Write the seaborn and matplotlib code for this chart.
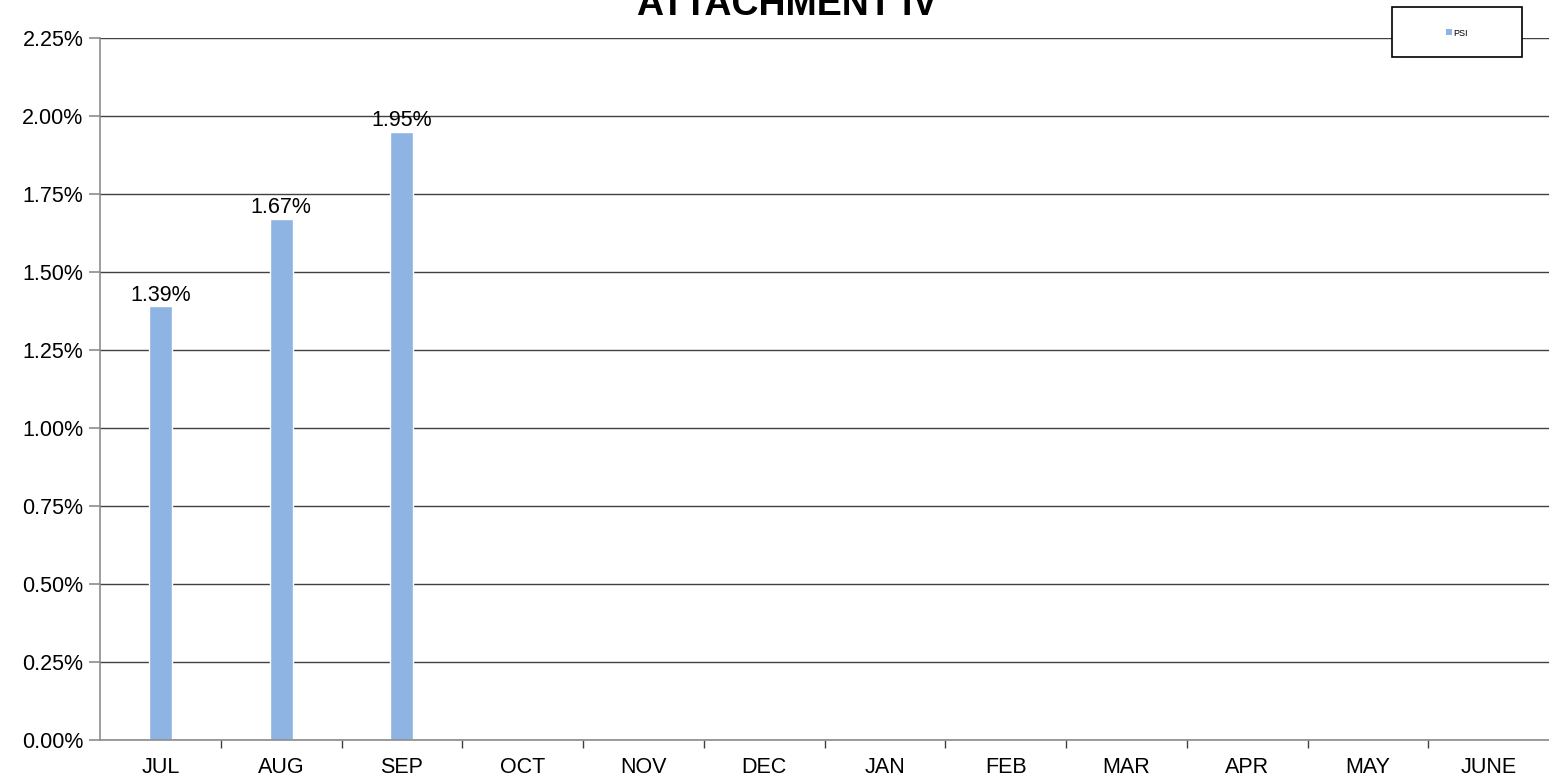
import pandas as pd
import numpy as np
import matplotlib
matplotlib.use("Agg")
from matplotlib import pyplot as plt
from matplotlib.patches import Rectangle
from matplotlib.ticker import PercentFormatter
import seaborn as sns

months = ["JUL", "AUG", "SEP", "OCT", "NOV", "DEC", "JAN", "FEB", "MAR", "APR", "MAY", "JUNE"]
psi = [0.0139, 0.0167, 0.0195, np.nan, np.nan, np.nan, np.nan, np.nan, np.nan, np.nan, np.nan, np.nan]
y_ticks = [0.0, 0.0025, 0.005, 0.0075, 0.01, 0.0125, 0.015, 0.0175, 0.02, 0.0225]

sns.set_style("white")
plt.rcParams['font.family'] = ['Liberation Sans', 'DejaVu Sans']
plt.rcParams['text.color'] = 'black'
plt.rcParams['xtick.color'] = 'black'
plt.rcParams['ytick.color'] = 'black'

df = pd.DataFrame({"month": months, "PSI": psi})
bar_color = "#8EB4E3"

fig = plt.figure(figsize=(15.49, 7.80), dpi=100)
ax = fig.add_axes([100 / 1549, 40 / 780, 1 - 100 / 1549, 702 / 780])

sns.barplot(data=df, x="month", y="PSI", order=months, color=bar_color,
            width=0.19, ax=ax, label="PSI", saturation=1)
if ax.get_legend() is not None:
    ax.get_legend().remove()

ax.set_ylim(0, 0.0225)
ax.set_xlim(-0.5, 11.5)
ax.set_yticks(y_ticks)
ax.yaxis.set_major_formatter(PercentFormatter(1.0, decimals=2))
ax.set_xlabel("")
ax.set_ylabel("")

# gridlines
ax.set_axisbelow(True)
ax.yaxis.grid(True, color="#404040", linewidth=1.0)
ax.xaxis.grid(False)

for side in ["top", "right"]:
    ax.spines[side].set_visible(False)
ax.spines["left"].set_color("#8c8c8c")
ax.spines["bottom"].set_color("#8c8c8c")
ax.spines["left"].set_linewidth(1.2)
ax.spines["bottom"].set_linewidth(1.2)

# x ticks between categories
ax.set_xticks(range(len(months)))
ax.set_xticklabels(months)
ax.set_xticks([i + 0.5 for i in range(len(months) - 1)], minor=True)
ax.tick_params(axis="x", which="major", length=0, pad=12, labelsize=15.5)
ax.tick_params(axis="x", which="minor", bottom=True, length=6, color="#404040",
               width=1.0, direction="out")
ax.tick_params(axis="y", which="major", length=8, color="#8c8c8c", width=1.2,
               left=True, labelsize=15.5, pad=4)

# data labels
for i, v in enumerate(psi):
    if not np.isnan(v):
        ax.text(i, v + 0.00002, f"{v * 100:.2f}%", ha="center", va="bottom", fontsize=15.5)

# title
fig.text(787 / 1549, 1 - 15 / 780, "ATTACHMENT IV", ha="center", va="baseline",
         fontsize=27, fontweight="bold")

# legend box
box = Rectangle((1392 / 1549, 1 - 57 / 780), 130 / 1549, 50 / 780, transform=fig.transFigure,
                facecolor="white", edgecolor="black", linewidth=1.2, zorder=5)
fig.patches.append(box)
handle = Rectangle((0, 0), 1, 1, facecolor=bar_color, edgecolor="none")
leg = fig.legend([handle], ["PSI"], loc="center", bbox_to_anchor=(1457 / 1549, 1 - 33 / 780),
                 frameon=False, fontsize=6.5, handlelength=0.6, handleheight=0.6,
                 handletextpad=0.2)
leg.set_zorder(6)

fig.savefig("out.png", dpi=100)
